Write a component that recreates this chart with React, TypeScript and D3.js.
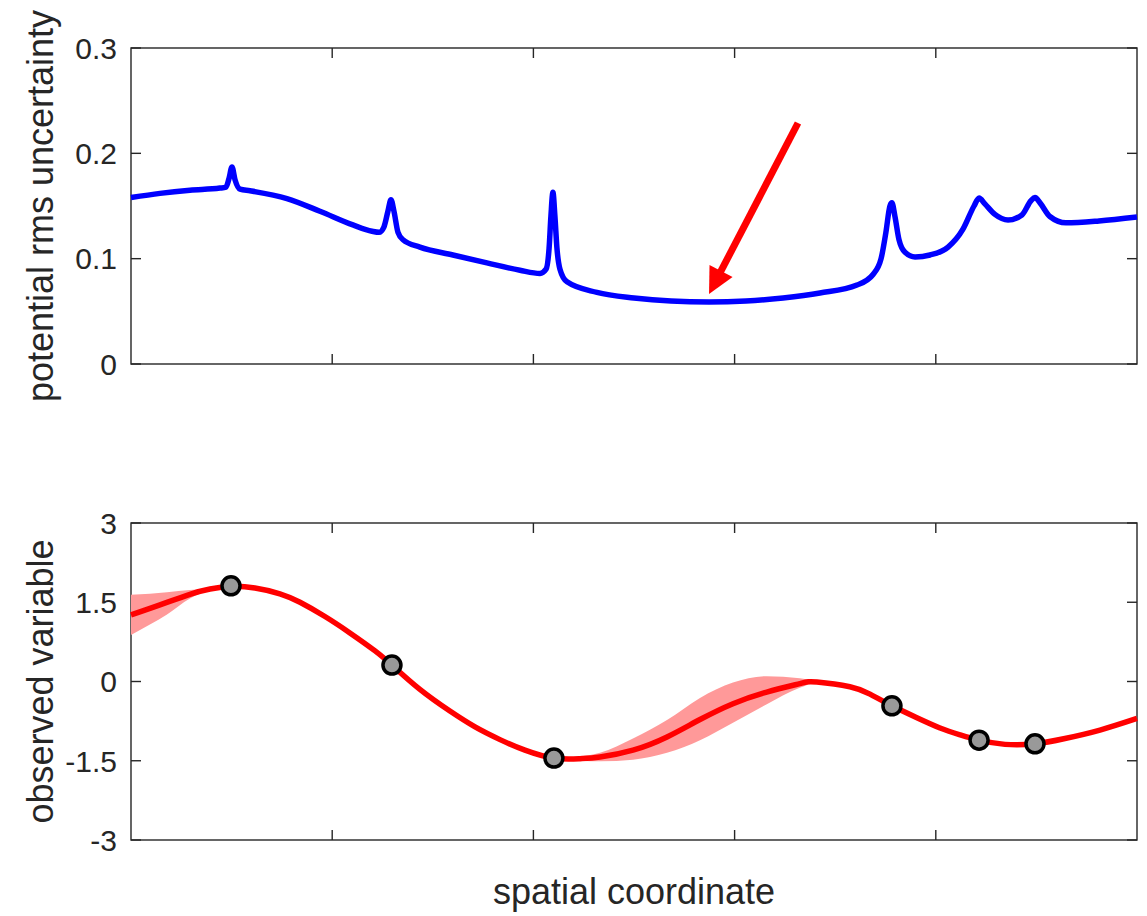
import React from "react";
import * as d3 from "d3";

// ---------- data ----------
const xTicks = [0, 1, 2, 3, 4, 5];
const topYTicks = [0, 0.1, 0.2, 0.3];
const topYTickLabels = ["0", "0.1", "0.2", "0.3"];
const botYTicks = [-3, -1.5, 0, 1.5, 3];
const botYTickLabels = ["-3", "-1.5", "0", "1.5", "3"];

// potential rms uncertainty (top panel)
const uncX = [
  0, 0.144, 0.293, 0.442, 0.472, 0.487, 0.502, 0.517, 0.542, 0.591, 0.775, 0.939, 1.103, 1.198,
  1.233, 1.257, 1.277, 1.292, 1.307, 1.327, 1.352, 1.436, 1.6, 1.769, 1.933, 2.033, 2.063, 2.078,
  2.087, 2.097, 2.107, 2.117, 2.132, 2.167, 2.316, 2.5, 2.684, 2.873, 3.057, 3.241, 3.424, 3.608,
  3.688, 3.728, 3.752, 3.772, 3.782, 3.797, 3.817, 3.847, 3.897, 3.971, 4.061, 4.135, 4.19, 4.215,
  4.244, 4.294, 4.359, 4.428, 4.473, 4.493, 4.518, 4.567, 4.647, 4.811, 5.0,
];
const uncY = [
  0.158, 0.162, 0.165, 0.167, 0.168, 0.176, 0.187, 0.175, 0.166, 0.1645, 0.157, 0.145, 0.132, 0.126,
  0.125, 0.13, 0.145, 0.156, 0.145, 0.125, 0.118, 0.111, 0.1035, 0.096, 0.089, 0.086, 0.09, 0.11,
  0.14, 0.163, 0.14, 0.11, 0.09, 0.078, 0.068, 0.0627, 0.0598, 0.0589, 0.0598, 0.0627, 0.0674, 0.075,
  0.085, 0.1, 0.125, 0.15, 0.153, 0.14, 0.118, 0.106, 0.1016, 0.1035, 0.111, 0.128, 0.15, 0.1576,
  0.152, 0.142, 0.1367, 0.1415, 0.155, 0.158, 0.153, 0.14, 0.134, 0.1358, 0.1396,
];

// arrow annotation (data coords of top panel)
const arrowTail = [3.315, 0.2288];
const arrowTip = [2.873, 0.0665];

// observed variable: mean curve (bottom panel)
const meanX = [
  0, 0.144, 0.293, 0.393, 0.497, 0.616, 0.74, 0.84, 0.964, 1.088, 1.213, 1.297, 1.436, 1.585, 1.71,
  1.834, 1.958, 2.102, 2.232, 2.331, 2.495, 2.664, 2.828, 2.992, 3.16, 3.324, 3.409, 3.573, 3.673,
  3.782, 3.897, 4.021, 4.121, 4.215, 4.344, 4.493, 4.642, 4.816, 5.0,
];
const meanY = [
  1.26, 1.45, 1.65, 1.75, 1.8, 1.77, 1.66, 1.5, 1.23, 0.92, 0.58, 0.31, -0.15, -0.56, -0.86,
  -1.1, -1.3, -1.45, -1.46, -1.43, -1.3, -1.05, -0.72, -0.42, -0.2, -0.04, -0.01, -0.1, -0.24,
  -0.46, -0.67, -0.88, -1.01, -1.11, -1.19, -1.18, -1.08, -0.92, -0.7,
];

// uncertainty band, left segment
const bandLeftX = [0, 0.094, 0.179, 0.293, 0.393, 0.497];
const bandLeftUpper = [1.64, 1.66, 1.69, 1.73, 1.76, 1.8];
const bandLeftLower = [0.88, 1.08, 1.27, 1.57, 1.73, 1.8];

// uncertainty band, middle segment
const bandMidX = [2.102, 2.232, 2.331, 2.495, 2.664, 2.828, 2.992, 3.16, 3.324, 3.409, 3.473];
const bandMidUpper = [-1.45, -1.42, -1.35, -1.08, -0.73, -0.31, -0.02, 0.1, 0.06, 0.01, -0.03];
const bandMidLower = [-1.45, -1.5, -1.51, -1.48, -1.35, -1.11, -0.78, -0.43, -0.12, -0.03, -0.03];

// observations
const obsX = [0.497, 1.297, 2.102, 3.782, 4.215, 4.493];
const obsY = [1.81, 0.31, -1.45, -0.46, -1.11, -1.18];

// ---------- layout ----------
const W = 1147;
const H = 916;
const left = 131;
const right = 1137;
const topPanel = { y0: 48, y1: 364 };
const botPanel = { y0: 523, y1: 840 };
const axisColor = "#262626";
const font = "'Liberation Sans', Arial, Helvetica, sans-serif";
const tickFs = 30;
const labelFs = 36;
const tickLen = 10;

function Frame({ y0, y1, yScale, yTicks, yLabels, label }) {
  const x = d3.scaleLinear().domain([0, 5]).range([left, right]);
  return (
    <g>
      <rect x={left} y={y0} width={right - left} height={y1 - y0} fill="none" stroke={axisColor} strokeWidth={1.4} />
      {xTicks.slice(1, -1).map((t) => (
        <g key={"xt" + t}>
          <line x1={x(t)} x2={x(t)} y1={y1} y2={y1 - tickLen} stroke={axisColor} strokeWidth={1.4} />
          <line x1={x(t)} x2={x(t)} y1={y0} y2={y0 + tickLen} stroke={axisColor} strokeWidth={1.4} />
        </g>
      ))}
      {yTicks.map((t, i) => (
        <g key={"yt" + t}>
          <line x1={left} x2={left + tickLen} y1={yScale(t)} y2={yScale(t)} stroke={axisColor} strokeWidth={1.4} />
          <line x1={right} x2={right - tickLen} y1={yScale(t)} y2={yScale(t)} stroke={axisColor} strokeWidth={1.4} />
          <text
            x={left - 14}
            y={yScale(t)}
            dy="0.36em"
            textAnchor="end"
            fontSize={tickFs}
            fontFamily={font}
            fill={axisColor}
          >
            {yLabels[i]}
          </text>
        </g>
      ))}
      <text
        transform={`translate(53,${(y0 + y1) / 2}) rotate(-90)`}
        textAnchor="middle"
        fontSize={labelFs}
        fontFamily={font}
        fill={axisColor}
      >
        {label}
      </text>
    </g>
  );
}

export default function App() {
  const x = d3.scaleLinear().domain([0, 5]).range([left, right]);
  const yTop = d3.scaleLinear().domain([0, 0.3]).range([topPanel.y1, topPanel.y0]);
  const yBot = d3.scaleLinear().domain([-3, 3]).range([botPanel.y1, botPanel.y0]);

  const uncLine = d3
    .line<number>()
    .x((_, i) => x(uncX[i]))
    .y((d) => yTop(d))
    .curve(d3.curveMonotoneX)(uncY);

  const meanLine = d3
    .line<number>()
    .x((_, i) => x(meanX[i]))
    .y((d) => yBot(d))
    .curve(d3.curveNatural)(meanY);

  const bandArea = (xs: number[], up: number[], lo: number[]) =>
    d3
      .area<number>()
      .x((_, i) => x(xs[i]))
      .y0((_, i) => yBot(lo[i]))
      .y1((_, i) => yBot(up[i]))
      .curve(d3.curveMonotoneX)(xs);

  // arrow geometry
  const tx = x(arrowTail[0]);
  const ty = yTop(arrowTail[1]);
  const hx = x(arrowTip[0]);
  const hy = yTop(arrowTip[1]);
  const dx = hx - tx;
  const dy = hy - ty;
  const len = Math.hypot(dx, dy);
  const ux = dx / len;
  const uy = dy / len;
  const headLen = 26;
  const headW = 13;
  const bx = hx - ux * headLen;
  const by = hy - uy * headLen;
  const px = -uy;
  const py = ux;
  const head = `M${hx},${hy}L${bx + px * headW},${by + py * headW}L${bx - px * headW},${by - py * headW}Z`;

  return (
    <svg
      width={W}
      height={H}
      style={{ position: "absolute", left: 0, top: 0, background: "#fff" }}
      xmlns="http://www.w3.org/2000/svg"
    >
      <rect x={0} y={0} width={W} height={H} fill="#fff" />
      {/* top panel */}
      <Frame
        y0={topPanel.y0}
        y1={topPanel.y1}
        yScale={yTop}
        yTicks={topYTicks}
        yLabels={topYTickLabels}
        label="potential rms uncertainty"
      />
      <path d={uncLine || ""} fill="none" stroke="#0000ff" strokeWidth={5.5} strokeLinejoin="round" />
      <line x1={tx} y1={ty} x2={bx + ux * 2} y2={by + uy * 2} stroke="#ff0000" strokeWidth={7} />
      <path d={head} fill="#ff0000" />

      {/* bottom panel */}
      <Frame
        y0={botPanel.y0}
        y1={botPanel.y1}
        yScale={yBot}
        yTicks={botYTicks}
        yLabels={botYTickLabels}
        label="observed variable"
      />
      <path d={bandArea(bandLeftX, bandLeftUpper, bandLeftLower) || ""} fill="#ff9999" />
      <path d={bandArea(bandMidX, bandMidUpper, bandMidLower) || ""} fill="#ff9999" />
      <path d={meanLine || ""} fill="none" stroke="#ff0000" strokeWidth={5.5} strokeLinejoin="round" />
      {obsX.map((ox, i) => (
        <circle key={i} cx={x(ox)} cy={yBot(obsY[i])} r={9} fill="#999999" stroke="#000" strokeWidth={3.5} />
      ))}

      <text
        x={(left + right) / 2}
        y={904}
        textAnchor="middle"
        fontSize={labelFs}
        fontFamily={font}
        fill={axisColor}
      >
        spatial coordinate
      </text>
    </svg>
  );
}
